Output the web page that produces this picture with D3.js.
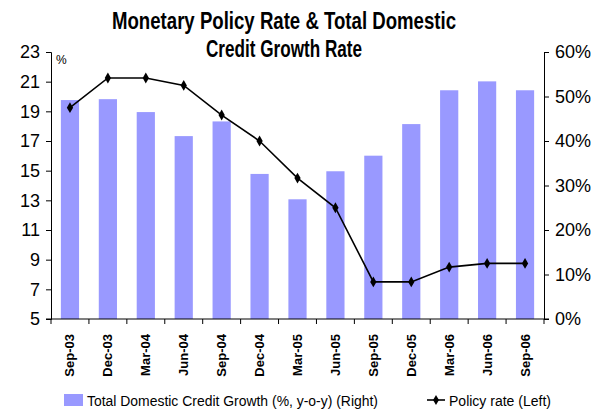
<!DOCTYPE html>
<html>
<head>
<meta charset="utf-8">
<script src="https://cdn.jsdelivr.net/npm/d3@7"></script>
<style>
  html, body { margin: 0; padding: 0; background: #fff; }
  svg { display: block; font-family: "Liberation Sans", Arial, sans-serif; }
  .tick text { font-family: "Liberation Sans", Arial, sans-serif; }
</style>
</head>
<body>
<svg id="chart" width="610" height="414"></svg>
<script>
// Quarter labels
const quarters = ["Sep-03","Dec-03","Mar-04","Jun-04","Sep-04","Dec-04","Mar-05","Jun-05","Sep-05","Dec-05","Mar-06","Jun-06","Sep-06"];
// Total domestic credit growth, % y-o-y (right axis)
const creditGrowth = [49.2, 49.4, 46.5, 41.1, 44.4, 32.6, 26.9, 33.2, 36.7, 43.8, 51.4, 53.4, 51.4];
// Monetary policy rate, % (left axis)
const policyRate = [19.25, 21.25, 21.25, 20.75, 18.75, 17.0, 14.5, 12.5, 7.5, 7.5, 8.5, 8.75, 8.75];
// Axis ticks
const leftTicks = [5, 7, 9, 11, 13, 15, 17, 19, 21, 23];
const rightTicks = [0, 10, 20, 30, 40, 50, 60];

const svg = d3.select("#chart");
const plot = { left: 51, right: 544, top: 52, bottom: 319 };

const x = d3.scaleBand().domain(quarters).range([plot.left, plot.right]).paddingInner(0.52).paddingOuter(0.26);
const band = d3.scaleBand().domain(quarters).range([plot.left, plot.right]);
const yL = d3.scaleLinear().domain([5, 23]).range([plot.bottom, plot.top]);
const yR = d3.scaleLinear().domain([0, 60]).range([plot.bottom, plot.top]);

// Condensed text helper: squeeze glyphs to a fixed width
function narrowText(sel, len) {
  return sel.attr("textLength", len).attr("lengthAdjust", "spacingAndGlyphs");
}

// Title
narrowText(svg.append("text")
  .attr("x", 284).attr("y", 29).attr("text-anchor", "middle")
  .attr("font-size", 23.5).attr("font-weight", "bold")
  .text("Monetary Policy Rate & Total Domestic"), 344);
narrowText(svg.append("text")
  .attr("x", 284).attr("y", 57).attr("text-anchor", "middle")
  .attr("font-size", 23.5).attr("font-weight", "bold")
  .text("Credit Growth Rate"), 156);

// Bars
svg.append("g").selectAll("rect").data(quarters).join("rect")
  .attr("x", d => x(d))
  .attr("width", x.bandwidth())
  .attr("y", (d, i) => yR(creditGrowth[i]))
  .attr("height", (d, i) => yR(0) - yR(creditGrowth[i]))
  .attr("fill", "#9999ff");

// Left axis
const gL = svg.append("g").attr("transform", `translate(${plot.left},0)`)
  .call(d3.axisLeft(yL).tickValues(leftTicks).tickSize(5).tickPadding(6).tickFormat(d3.format("d")));
gL.selectAll("text").attr("font-size", 18).attr("fill", "#000");
gL.selectAll("line, path").attr("stroke", "#000");

// Right axis
const gR = svg.append("g").attr("transform", `translate(${plot.right},0)`)
  .call(d3.axisRight(yR).tickValues(rightTicks).tickSize(5).tickPadding(6).tickFormat(d => d + "%"));
gR.selectAll("text").attr("font-size", 18).attr("fill", "#000");
gR.selectAll("line, path").attr("stroke", "#000");

// Bottom axis with ticks at category boundaries
const gB = svg.append("g").attr("transform", `translate(0,${plot.bottom})`);
gB.append("line").attr("x1", plot.left - 5).attr("x2", plot.right + 5).attr("stroke", "#000");
gB.selectAll("line.tk").data(quarters.concat(["end"])).join("line").attr("class", "tk")
  .attr("x1", (d, i) => plot.left + i * band.step())
  .attr("x2", (d, i) => plot.left + i * band.step())
  .attr("y1", 0).attr("y2", 5).attr("stroke", "#000");
gB.selectAll("text").data(quarters).join("text")
  .attr("transform", d => `translate(${band(d) + band.bandwidth() / 2 + 4.5},${15}) rotate(-90)`)
  .attr("text-anchor", "end")
  .attr("font-size", 13).attr("font-weight", "bold")
  .text(d => d);

// "%" unit label
svg.append("text").attr("x", 56).attr("y", 64).attr("font-size", 12).text("%");

// Policy rate line
const line = d3.line().x((d, i) => band(quarters[i]) + band.bandwidth() / 2).y(d => yL(d));
svg.append("path").datum(policyRate).attr("d", line)
  .attr("fill", "none").attr("stroke", "#000").attr("stroke-width", 1.6);
svg.append("g").selectAll("path").data(policyRate).join("path")
  .attr("transform", (d, i) => `translate(${band(quarters[i]) + band.bandwidth() / 2},${yL(d)})`)
  .attr("d", d3.symbol(d3.symbolDiamond, 34))
  .attr("fill", "#000");

// Legend
const lg = svg.append("g");
lg.append("rect").attr("x", 64).attr("y", 394).attr("width", 19).attr("height", 12).attr("fill", "#9999ff");
narrowText(lg.append("text").attr("x", 87).attr("y", 406).attr("font-size", 15.5)
  .text("Total Domestic Credit Growth (%, y-o-y) (Right)"), 291);
lg.append("line").attr("x1", 427).attr("x2", 445).attr("y1", 400).attr("y2", 400)
  .attr("stroke", "#000").attr("stroke-width", 1.6);
lg.append("path").attr("transform", "translate(436,400)").attr("d", d3.symbol(d3.symbolDiamond, 30)).attr("fill", "#000");
narrowText(lg.append("text").attr("x", 449).attr("y", 406).attr("font-size", 15.5)
  .text("Policy rate (Left)"), 102);
</script>
</body>
</html>
